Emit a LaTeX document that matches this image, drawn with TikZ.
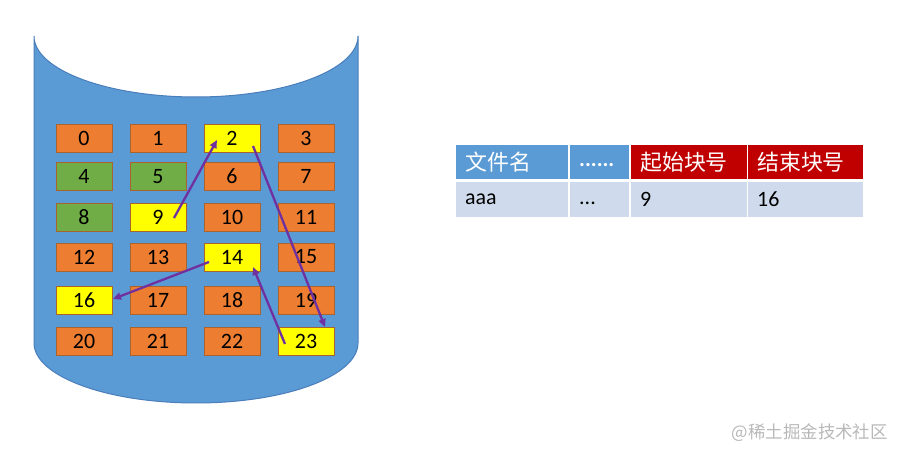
\documentclass[tikz,border=0pt]{standalone}
\usepackage{fontspec}
\setmainfont{Carlito}
\newfontfamily\cjk{Noto Sans CJK SC}
\usetikzlibrary{arrows.meta}
\definecolor{cylblue}{HTML}{5B9BD5}
\definecolor{cylline}{HTML}{4A7EBB}
\definecolor{boxorange}{HTML}{ED7D31}
\definecolor{boxgreen}{HTML}{70AD47}
\definecolor{boxyellow}{HTML}{FFFF00}
\definecolor{boxline}{HTML}{A8642C}
\definecolor{arrowpurple}{HTML}{7030A0}
\definecolor{hdrred}{HTML}{C00000}
\definecolor{rowblue}{HTML}{CFDBEC}
\definecolor{wmgray}{HTML}{B8B8B8}
\begin{document}
\begin{tikzpicture}[x=1bp,y=1bp,
  blk/.style={draw=boxline,line width=0.8bp,minimum width=56bp,minimum height=28bp,inner sep=0pt,font=\fontsize{22}{26}\selectfont},
  orb/.style={blk,fill=boxorange},
  grb/.style={blk,fill=boxgreen},
  ylb/.style={blk,fill=boxyellow},
  link/.style={draw=arrowpurple,line width=2.3bp,-{Triangle[length=8bp,width=7bp]}},
  cell/.style={anchor=south west,inner xsep=9bp,inner ysep=0pt,align=left,minimum height=34bp},
  hcell/.style={cell,text=white,font=\cjk\fontsize{22}{26}\selectfont},
  dcell/.style={cell,fill=rowblue,text=black,minimum height=35bp,font=\fontsize{22}{26}\selectfont},
]
\useasboundingbox (0,0) rectangle (897,450);
% cylinder
\path[fill=cylblue,draw=cylline,line width=1bp]
  (34,414) -- (34,107) arc[start angle=180,end angle=360,x radius=162,y radius=60]
  -- (358,414) arc[start angle=0,end angle=-180,x radius=162,y radius=61] -- cycle;
% blocks
\node[orb] (n0)  at (84,312)   {0};
\node[orb] (n1)  at (158,312)  {1};
\node[ylb] (n2)  at (232,312)  {2};
\node[orb] (n3)  at (306,312)  {3};
\node[grb] (n4)  at (84,273.5) {4};
\node[grb] (n5)  at (158,273.5){5};
\node[orb] (n6)  at (232,273.5){6};
\node[orb] (n7)  at (306,273.5){7};
\node[grb] (n8)  at (84,233)   {8};
\node[ylb] (n9)  at (158,233)  {9};
\node[orb] (n10) at (232,233)  {10};
\node[orb] (n11) at (306,233)  {11};
\node[orb] (n12) at (84,193)   {12};
\node[orb] (n13) at (158,193)  {13};
\node[ylb] (n14) at (232,193)  {14};
\node[orb] (n15) at (306,193)  {15};
\node[ylb] (n16) at (84,149.5) {16};
\node[orb] (n17) at (158,149.5){17};
\node[orb] (n18) at (232,149.5){18};
\node[orb] (n19) at (306,149.5){19};
\node[orb] (n20) at (84,109)   {20};
\node[orb] (n21) at (158,109)  {21};
\node[orb] (n22) at (232,109)  {22};
\node[ylb] (n23) at (306,109)  {23};
% chain arrows
\coordinate (a9s)  at ([shift={(16,-1)}]n9.center);
\coordinate (a2e)  at ([shift={(-15,-2)}]n2.center);
\coordinate (a2s)  at ([shift={(21,-8)}]n2.center);
\coordinate (a23e) at ([shift={(19,14)}]n23.center);
\coordinate (a23s) at ([shift={(-21,-3)}]n23.center);
\coordinate (a14e) at ([shift={(21,-10)}]n14.center);
\coordinate (a14s) at ([shift={(-23,-5)}]n14.center);
\coordinate (a16e) at ([shift={(29,1.5)}]n16.center);
\draw[link] (a9s) -- (a2e);
\draw[link] (a2s) -- (a23e);
\draw[link] (a23s) -- (a14e);
\draw[link] (a14s) -- (a16e);
% table
\node[hcell,fill=cylblue,text width=94bp] (h1) at (456,271) {文件名};
\node[hcell,fill=cylblue,text width=41bp,font=\fontsize{22}{26}\selectfont\bfseries] (h2) at (570,271) {\strut......};
\node[hcell,fill=hdrred,text width=98bp] (h3) at (631,271) {起始块号};
\node[hcell,fill=hdrred,text width=97bp] (h4) at (748,271) {结束块号};
\node[dcell,text width=94bp] (d1) at (456,233) {aaa};
\node[dcell,text width=41bp] (d2) at (570,233) {\strut...};
\node[dcell,text width=98bp] (d3) at (631,233) {9};
\node[dcell,text width=97bp] (d4) at (748,233) {16};
% watermark
\node[anchor=east,text=wmgray,inner sep=0pt,font=\cjk\fontsize{17.5}{20}\selectfont] (wm) at (888,17) {@稀土掘金技术社区};
\end{tikzpicture}
\end{document}
